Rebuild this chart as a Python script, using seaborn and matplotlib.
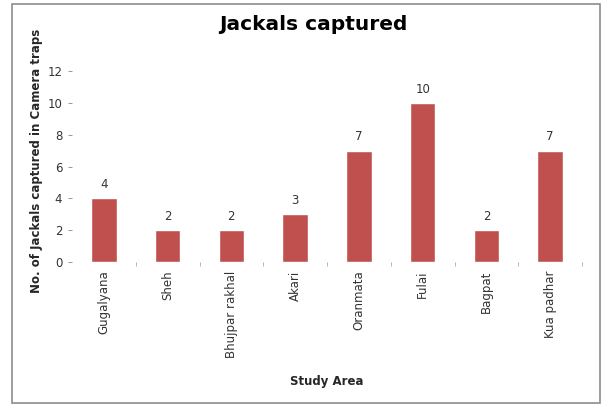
import matplotlib
matplotlib.use("Agg")
import matplotlib.pyplot as plt
import seaborn as sns
import pandas as pd
from matplotlib.patches import Rectangle

areas = ["Gugalyana", "Sheh", "Bhujpar rakhal", "Akari", "Oranmata", "Fulai", "Bagpat", "Kua padhar"]
jackals = [4, 2, 2, 3, 7, 10, 2, 7]
yticks = [0, 2, 4, 6, 8, 10, 12]

df = pd.DataFrame({"area": areas, "count": jackals})

sns.set_theme(style="white")
plt.rcParams['font.family'] = ['DejaVu Sans']

fig = plt.figure(figsize=(6.02, 4.05), dpi=100)
fig.patch.set_facecolor("white")
fig.patches.append(Rectangle((12/602, 2/405), 588/602, 399/405, transform=fig.transFigure,
                             fill=False, edgecolor="#8c8c8c", linewidth=1.2))

ax = fig.add_axes([72/602, 143/405, 510/602, 191/405])
sns.barplot(data=df, x="area", y="count", color="#C0504D", width=0.4, ax=ax, saturation=1)

ax.set_ylim(0, 12)
ax.set_yticks(yticks)
ax.set_yticklabels([str(t) for t in yticks], fontsize=8.5, color="#333333")
ax.set_xticks(range(len(areas)))
ax.set_xticklabels(areas, rotation=90, fontsize=8.5, color="#333333")
ax.set_xticks([i + 0.5 for i in range(len(areas))], minor=True)
ax.tick_params(axis="x", which="minor", length=3, width=0.6, color="#aaaaaa", bottom=True)
ax.tick_params(axis="y", length=3, width=0.6, color="#888888", left=True, pad=4)
ax.tick_params(axis="x", which="major", length=0, pad=6)
for s in ax.spines.values():
    s.set_visible(False)

for i, v in enumerate(jackals):
    ax.text(i, v + 0.45, str(v), ha="center", va="bottom", fontsize=8.5, color="#333333")

ax.set_xlabel("Study Area", fontsize=8.5, fontweight="bold")
ax.set_ylabel("No. of Jackals captured in Camera traps", fontsize=8.5, fontweight="bold")
ax.yaxis.set_label_coords(-0.057, 0.53)
ax.xaxis.set_label_coords(0.5, -0.59)
fig.text(0.52, 0.94, "Jackals captured", ha="center", va="center", fontsize=14.5, fontweight="bold", color="black")

fig.savefig("out.png", dpi=100)
